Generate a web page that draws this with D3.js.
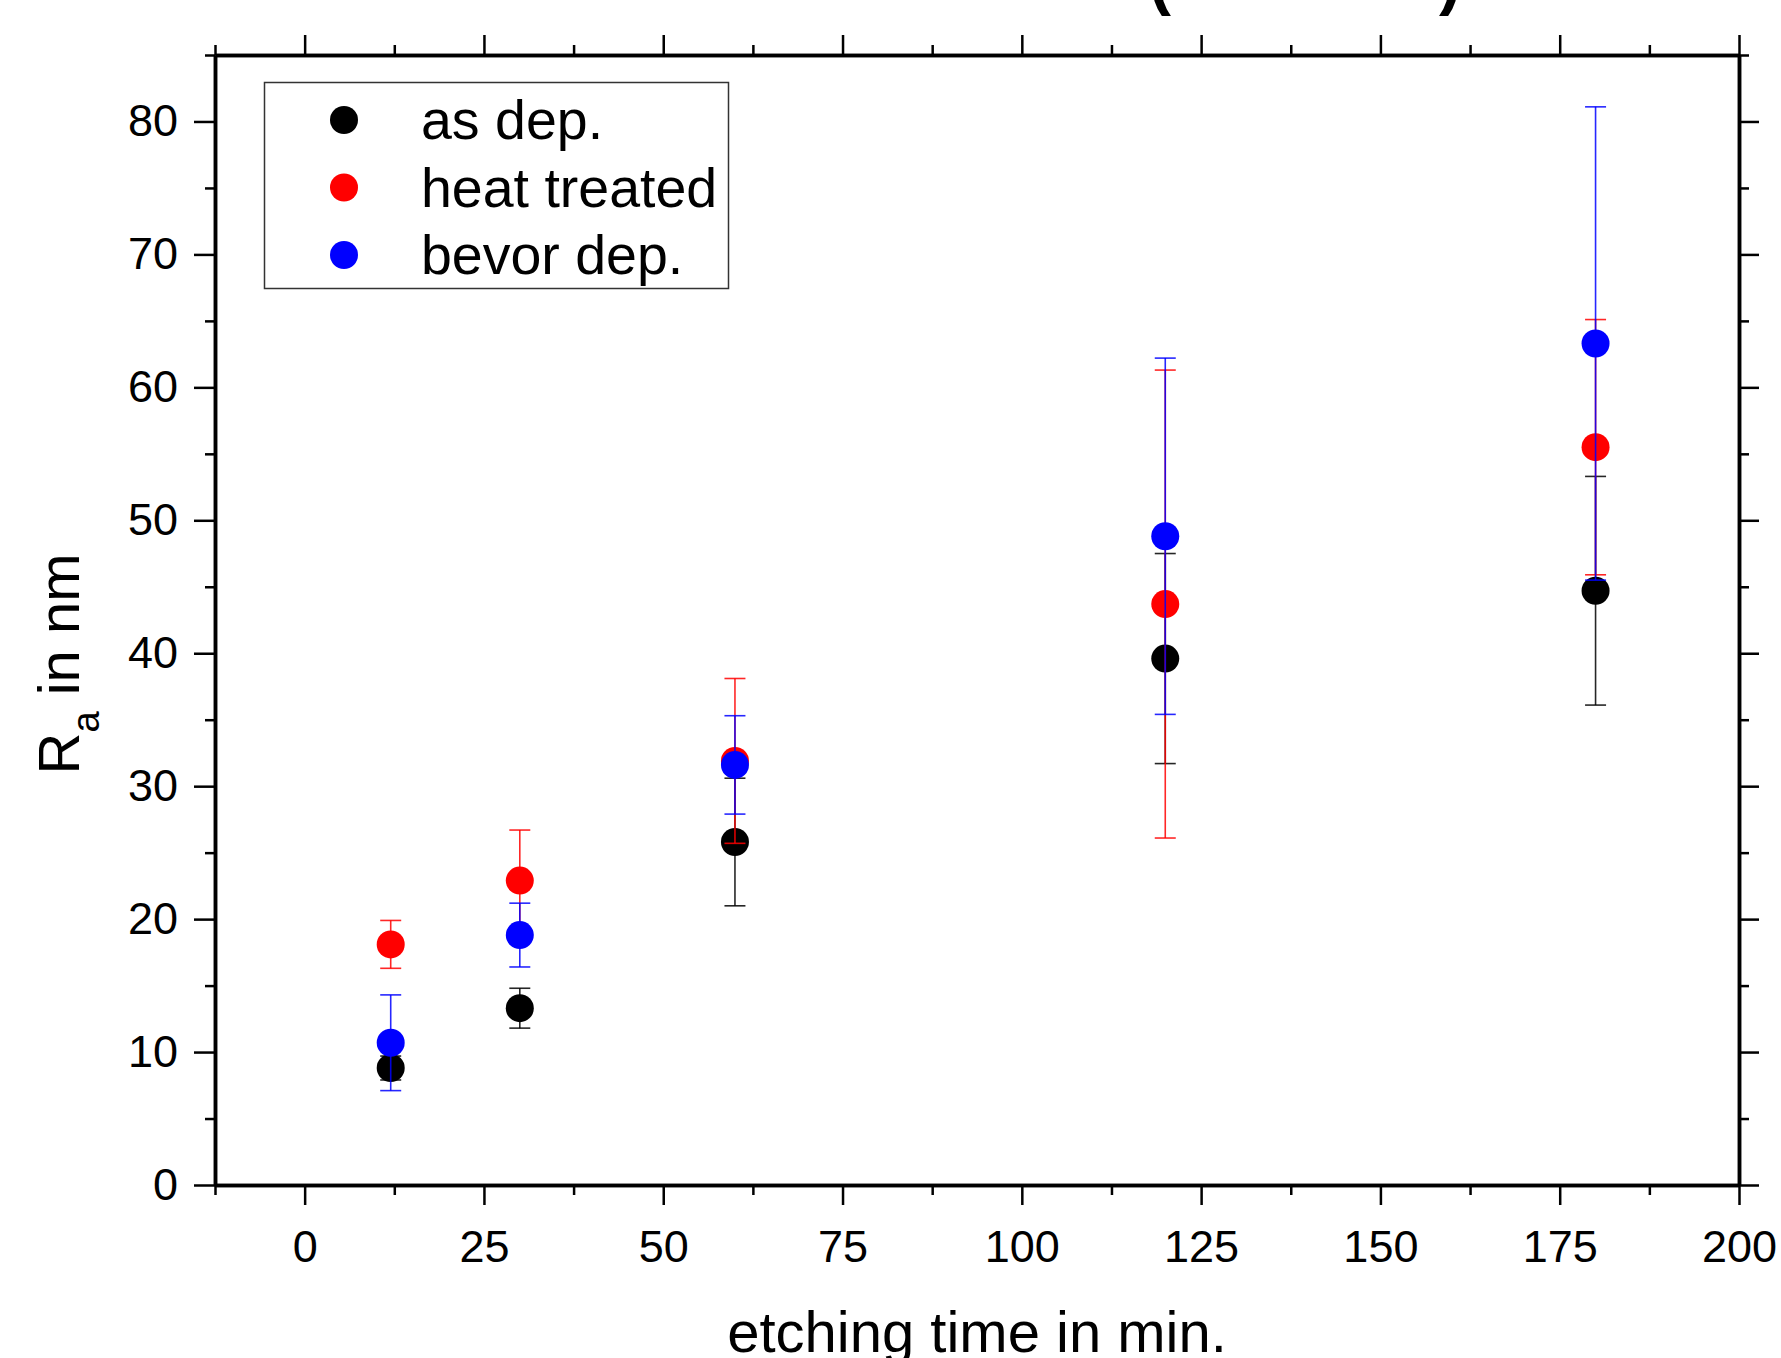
<!DOCTYPE html>
<html>
<head>
<meta charset="utf-8">
<script src="https://cdnjs.cloudflare.com/ajax/libs/d3/7.8.5/d3.min.js"></script>
<style>
  body { margin: 0; background: #fff; }
  text { font-family: "Liberation Sans", Arial, sans-serif; fill: #000; }
</style>
</head>
<body>
<div id="plot"></div>
<script>
// etching time in min.
var times = [12, 30, 60, 120, 180];

// R_a in nm, mean and error per series
var asDep = [8.8, 13.3, 25.8, 39.6, 44.7];
var asDepErr = [0.9, 1.5, 4.8, 7.9, 8.6];
var heatTreated = [18.1, 22.9, 31.9, 43.7, 55.5];
var heatTreatedErr = [1.8, 3.8, 6.2, 17.6, 9.6];
var bevorDep = [10.7, 18.8, 31.6, 48.8, 63.3];
var bevorDepErr = [3.6, 2.4, 3.7, 13.4, 17.8];

var seriesNames = ["as dep.", "heat treated", "bevor dep."];

var xTicks = [0, 25, 50, 75, 100, 125, 150, 175, 200];
var xMinorTicks = [-12.5, 12.5, 37.5, 62.5, 87.5, 112.5, 137.5, 162.5, 187.5];
var yTicks = [0, 10, 20, 30, 40, 50, 60, 70, 80];
var yMinorTicks = [5, 15, 25, 35, 45, 55, 65, 75, 85];

var colors = ["#000000", "#ff0000", "#0000ff"];

var svgWidth = 1781;
var svgHeight = 1358;

var margin = {
  top: 55,
  right: 42,
  bottom: 173,
  left: 215
};

var width = svgWidth - margin.left - margin.right;
var height = svgHeight - margin.top - margin.bottom;

var svg = d3
  .select("#plot")
  .append("svg")
  .attr("width", svgWidth)
  .attr("height", svgHeight);

// title is cut off at the top of the image, only the parentheses tails show
svg.append("text")
  .attr("x", 1160)
  .attr("y", 2)
  .attr("text-anchor", "middle")
  .attr("font-size", "66px")
  .attr("font-weight", "bold")
  .text("(");
svg.append("text")
  .attr("x", 1450)
  .attr("y", 2)
  .attr("text-anchor", "middle")
  .attr("font-size", "66px")
  .attr("font-weight", "bold")
  .text(")");

var chartGroup = svg.append("g")
  .attr("transform", `translate(${margin.left}, ${margin.top})`);

var xScale = d3.scaleLinear()
  .domain([-12.5, 200])
  .range([0, width]);

var yScale = d3.scaleLinear()
  .domain([0, 85])
  .range([height, 0]);

function styleAxis(g) {
  g.select(".domain").attr("stroke-width", 3.5).attr("stroke", "#000");
  g.selectAll(".tick line").attr("stroke-width", 2.5).attr("stroke", "#000");
  g.selectAll(".tick text")
    .attr("font-size", "45px")
    .attr("font-family", "'Liberation Sans', Arial, sans-serif");
  return g;
}

// bottom axis
chartGroup.append("g")
  .attr("transform", `translate(0, ${height})`)
  .call(d3.axisBottom(xScale).tickValues(xMinorTicks).tickSize(10).tickSizeOuter(0).tickFormat(""))
  .call(styleAxis);
chartGroup.append("g")
  .attr("transform", `translate(0, ${height})`)
  .call(d3.axisBottom(xScale).tickValues(xTicks).tickSize(20).tickSizeOuter(0).tickPadding(25).tickFormat(d3.format("d")))
  .call(styleAxis);

// top axis
chartGroup.append("g")
  .call(d3.axisTop(xScale).tickValues(xMinorTicks).tickSize(10).tickSizeOuter(0).tickFormat(""))
  .call(styleAxis);
chartGroup.append("g")
  .call(d3.axisTop(xScale).tickValues(xTicks).tickSize(20).tickSizeOuter(0).tickFormat(""))
  .call(styleAxis);

// left axis
chartGroup.append("g")
  .call(d3.axisLeft(yScale).tickValues(yMinorTicks).tickSize(10).tickSizeOuter(0).tickFormat(""))
  .call(styleAxis);
chartGroup.append("g")
  .call(d3.axisLeft(yScale).tickValues(yTicks).tickSize(21).tickSizeOuter(0).tickPadding(16).tickFormat(d3.format("d")))
  .call(styleAxis);

// right axis
chartGroup.append("g")
  .attr("transform", `translate(${width}, 0)`)
  .call(d3.axisRight(yScale).tickValues(yMinorTicks).tickSize(10).tickSizeOuter(0).tickFormat(""))
  .call(styleAxis);
chartGroup.append("g")
  .attr("transform", `translate(${width}, 0)`)
  .call(d3.axisRight(yScale).tickValues(yTicks).tickSize(20).tickSizeOuter(0).tickFormat(""))
  .call(styleAxis);

// axis titles
svg.append("text")
  .attr("x", 977)
  .attr("y", 1352)
  .attr("text-anchor", "middle")
  .attr("font-size", "58px")
  .text("etching time in min.");

var yTitle = svg.append("text")
  .attr("transform", "translate(79, 664) rotate(-90)")
  .attr("text-anchor", "middle")
  .attr("font-size", "58px");
yTitle.append("tspan").text("R");
yTitle.append("tspan").attr("dy", 20).attr("font-size", "38px").text("a");
yTitle.append("tspan").attr("dy", -20).text(" in nm");

// series: error bars then points, drawn one series after the other
var seriesValues = [asDep, heatTreated, bevorDep];
var seriesErrors = [asDepErr, heatTreatedErr, bevorDepErr];
var capHalf = 10.5;

seriesValues.forEach(function(values, s) {
  var rows = times.map(function(t, i) {
    return { t: t, v: values[i], e: seriesErrors[s][i] };
  });
  var group = chartGroup.append("g").attr("class", "series");

  var bars = group.selectAll(".err")
    .data(rows)
    .enter()
    .append("g")
    .attr("stroke", colors[s])
    .attr("stroke-width", 1.6)
    .attr("stroke-opacity", 0.85);
  bars.append("line")
    .attr("x1", d => xScale(d.t))
    .attr("x2", d => xScale(d.t))
    .attr("y1", d => yScale(d.v + d.e))
    .attr("y2", d => yScale(d.v - d.e));
  bars.append("line")
    .attr("x1", d => xScale(d.t) - capHalf)
    .attr("x2", d => xScale(d.t) + capHalf)
    .attr("y1", d => yScale(d.v + d.e))
    .attr("y2", d => yScale(d.v + d.e));
  bars.append("line")
    .attr("x1", d => xScale(d.t) - capHalf)
    .attr("x2", d => xScale(d.t) + capHalf)
    .attr("y1", d => yScale(d.v - d.e))
    .attr("y2", d => yScale(d.v - d.e));

  group.selectAll("circle")
    .data(rows)
    .enter()
    .append("circle")
    .attr("cx", d => xScale(d.t))
    .attr("cy", d => yScale(d.v))
    .attr("r", 14)
    .attr("fill", colors[s]);
});

// legend
var legend = svg.append("g");
legend.append("rect")
  .attr("x", 264.5)
  .attr("y", 82.5)
  .attr("width", 464)
  .attr("height", 206)
  .attr("fill", "none")
  .attr("stroke", "#333")
  .attr("stroke-width", 1.5);

seriesNames.forEach(function(name, i) {
  var cy = 120 + i * 67.5;
  legend.append("circle")
    .attr("cx", 344)
    .attr("cy", cy)
    .attr("r", 14)
    .attr("fill", colors[i]);
  legend.append("text")
    .attr("x", 421)
    .attr("y", cy + 19)
    .attr("font-size", "55.5px")
    .text(name);
});
</script>
</body>
</html>
